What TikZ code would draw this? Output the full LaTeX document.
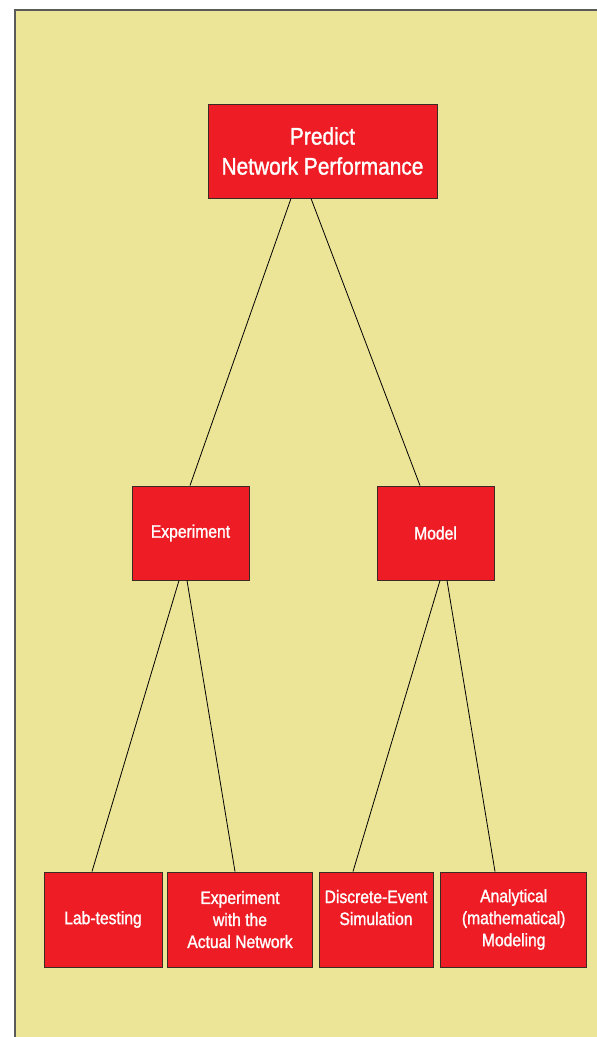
\documentclass[tikz,border=0pt]{standalone}
\usepackage{fontspec}
\setmainfont{Liberation Sans}[FakeStretch=0.87,FakeBold=1.3]
\definecolor{paper}{HTML}{ECE496}
\definecolor{boxred}{HTML}{EE1D25}
\definecolor{boxline}{HTML}{3A2C24}
\definecolor{frameline}{HTML}{5A5A5A}
\begin{document}
\begin{tikzpicture}[x=1pt,y=-1pt,
  box/.style={draw=boxline,line width=0.9pt,fill=boxred,text=white,
    align=center,inner sep=0pt,minimum height=94pt},
  bigtext/.style={font=\fontsize{24}{30}\selectfont},
  smalltext/.style={font=\fontsize{18}{22}\selectfont},
  link/.style={draw=black,line width=0.8pt}]
  % page and frame
  \useasboundingbox (0,0) rectangle (597,1037);
  \fill[paper] (15,10) rectangle (597,1037);
  \draw[frameline,line width=1.6pt] (15,1037) -- (15,10) -- (597,10);

  % boxes
  \node[box,bigtext,minimum width=229pt] (top) at (322.5,151) {Predict\\Network Performance};
  \node[box,smalltext,minimum width=117pt] (exp) at (190.5,533) {Experiment};
  \node[box,smalltext,minimum width=117pt] (mod) at (435.5,533) {Model};
  \node[box,smalltext,minimum width=118pt,minimum height=95pt] (lab) at (103,919.5) {Lab-testing};
  \node[box,smalltext,minimum width=145pt,minimum height=95pt] (act) at (240,919.5) {Experiment\\with the\\Actual Network};
  \node[box,smalltext,minimum width=114pt,minimum height=95pt,text depth=2pt] (des) at (376,919.5) {Discrete-Event\\Simulation\\\strut};
  \node[box,smalltext,minimum width=146pt,minimum height=95pt] (ana) at (513.7,919.5) {Analytical\\(mathematical)\\Modeling};

  % connectors
  \draw[link] ([xshift=-31.5pt]top.south) -- ([xshift=-0.5pt]exp.north);
  \draw[link] ([xshift=-11.5pt]top.south) -- ([xshift=-15.5pt]mod.north);
  \draw[link] ([xshift=-11.5pt]exp.south) -- ([xshift=-11pt]lab.north);
  \draw[link] ([xshift=-3.5pt]exp.south) -- ([xshift=-5pt]act.north);
  \draw[link] ([xshift=4.5pt]mod.south) -- ([xshift=-23pt]des.north);
  \draw[link] ([xshift=11.5pt]mod.south) -- ([xshift=-18.7pt]ana.north);
\end{tikzpicture}
\end{document}
